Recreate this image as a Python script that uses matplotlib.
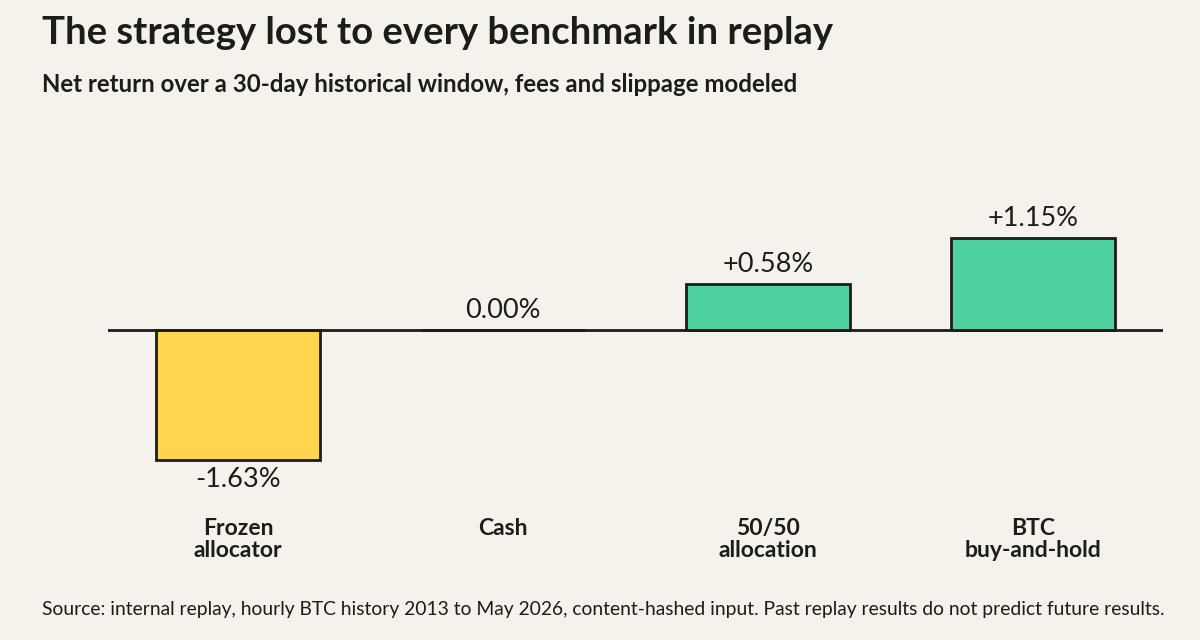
import matplotlib
matplotlib.use("Agg")
import matplotlib.pyplot as plt

categories = ["Frozen\nallocator", "Cash", "50/50\nallocation", "BTC\nbuy-and-hold"]
values = [-1.63, 0.00, 0.58, 1.15]
labels = ["-1.63%", "0.00%", "+0.58%", "+1.15%"]
colors = ["#ffd54f", "#4fd1a1", "#4fd1a1", "#4fd1a1"]

BG = "#f5f2eb"
INK = "#1c1c1c"
plt.rcParams['font.family'] = ['Lato', 'DejaVu Sans']

fig = plt.figure(figsize=(12, 6.4), dpi=100, facecolor=BG)
ax = fig.add_axes([108/1200, 140/640, 1055/1200, 370/640])
ax.set_facecolor(BG)
x = list(range(len(categories)))
ax.bar(x, values, width=0.62, color=colors, edgecolor=INK, linewidth=2, zorder=3)
ax.axhline(0, color=INK, linewidth=2, zorder=4)
ax.set_xlim(-0.49, 3.49)
ax.set_ylim(-2.13, 2.506)
for s in ax.spines.values():
    s.set_visible(False)
ax.set_xticks([]); ax.set_yticks([])

for xi, v, lab in zip(x, values, labels):
    if v < 0:
        ax.annotate(lab, (xi, v), xytext=(0, -5), textcoords="offset points",
                    ha="center", va="top", fontsize=19.5, color=INK)
    else:
        ax.annotate(lab, (xi, v), xytext=(0, 5), textcoords="offset points",
                    ha="center", va="bottom", fontsize=19.5, color=INK)

for xi, c in zip(x, categories):
    ax.text(xi, -2.35, c, ha="center", va="top", fontsize=16.5, fontweight="bold",
            color=INK, linespacing=1.1, clip_on=False)

fig.text(42/1200, 1-33/640, "The strategy lost to every benchmark in replay",
         fontsize=27.5, fontweight="bold", color=INK, va="center", ha="left")
fig.text(42/1200, 1-85/640, "Net return over a 30-day historical window, fees and slippage modeled",
         fontsize=17.3, fontweight="bold", color=INK, va="center", ha="left")
fig.text(42/1200, 1-609/640,
         "Source: internal replay, hourly BTC history 2013 to May 2026, content-hashed input. Past replay results do not predict future results.",
         fontsize=13.9, color=INK, va="center", ha="left")

fig.savefig("out.png", dpi=100, facecolor=BG)
